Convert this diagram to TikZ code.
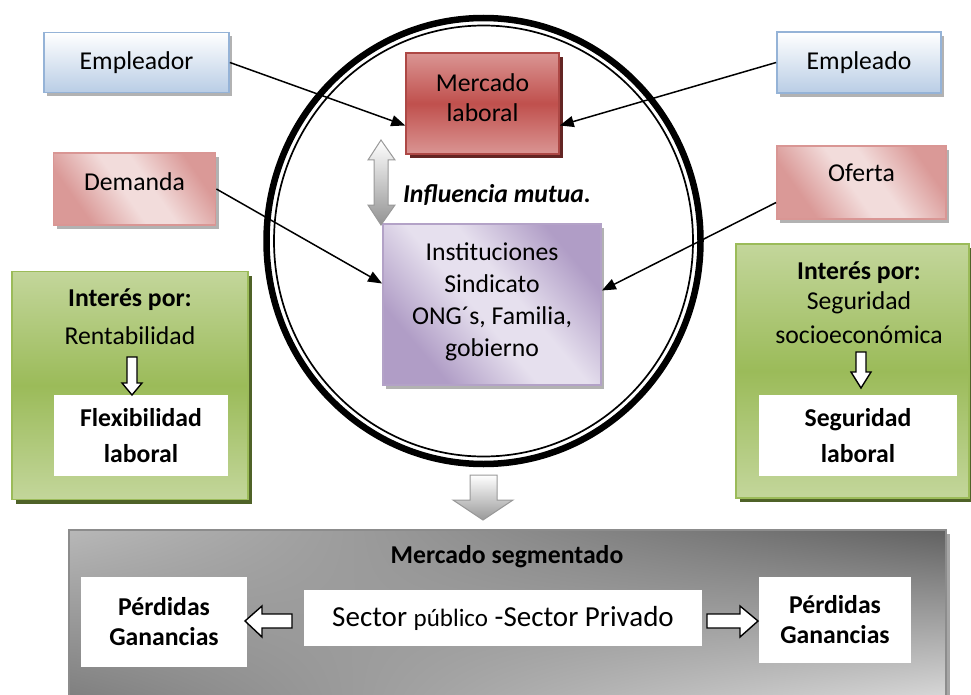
\documentclass[tikz,border=0pt]{standalone}
\usepackage{fontspec}
\setmainfont{Carlito}
\usetikzlibrary{arrows.meta,shadows,shadings}
\definecolor{bluebd}{HTML}{95B3D7}
\definecolor{bluebg}{HTML}{B9CDE5}
\definecolor{pinkbd}{HTML}{D99694}
\definecolor{pinkdk}{HTML}{DA9997}
\definecolor{pinklt}{HTML}{F2DCDB}
\definecolor{redmid}{HTML}{C0504D}
\definecolor{redlt}{HTML}{DA9593}
\definecolor{reddk}{HTML}{632523}
\definecolor{lavbd}{HTML}{B3A2C7}
\definecolor{lavdk}{HTML}{B09DC6}
\definecolor{lavlt}{HTML}{E6E0EE}
\definecolor{greenmid}{HTML}{9BBB59}
\definecolor{greenlt}{HTML}{C3D69B}
\definecolor{greendk}{HTML}{4F6228}
\pgfdeclarehorizontalshading{pinkband}{100bp}{color(0bp)=(pinkdk); color(28bp)=(pinkdk); color(46bp)=(pinklt); color(56bp)=(pinklt); color(74bp)=(pinkdk); color(100bp)=(pinkdk)}
\pgfdeclarehorizontalshading{lavband}{100bp}{color(0bp)=(lavdk); color(28bp)=(lavdk); color(46bp)=(lavlt); color(56bp)=(lavlt); color(74bp)=(lavdk); color(100bp)=(lavdk)}
\newcommand\bodyfont{\fontsize{25.7}{31}\selectfont}
\begin{document}
\begin{tikzpicture}[x=1pt,y=-1pt,
  every node/.style={font=\bodyfont, inner sep=0pt, text=black},
  softshadow/.style={drop shadow={shadow xshift=3pt,shadow yshift=-4pt,fill=gray!60,opacity=1}},
  bluebox/.style={draw=bluebd, line width=1.8pt, top color=white, bottom color=bluebg, softshadow},
  pinkbox/.style={draw=pinkbd, line width=1.8pt, shading=pinkband, shading angle=35, softshadow},
  redbox/.style={draw=redmid!90!black, line width=1.5pt, top color=redlt, bottom color=redlt, middle color=redmid,
     drop shadow={shadow xshift=4pt,shadow yshift=-4pt,fill=reddk,opacity=1}},
  lavbox/.style={draw=lavbd, line width=1.8pt, shading=lavband, shading angle=40, softshadow},
  greenbox/.style={draw=greenmid, line width=1.8pt, top color=greenlt, bottom color=greenlt, middle color=greenmid,
     drop shadow={shadow xshift=4pt,shadow yshift=-4pt,fill=greendk,opacity=1}},
  whitebox/.style={fill=white},
  conn/.style={line width=1.5pt, -{Triangle[length=14pt,width=11pt]}},
  blockarrow/.style={draw=black, line width=1.4pt, fill=white},
  lbl/.style={align=center},
  blbl/.style={align=center, font=\bodyfont\bfseries}
]
\useasboundingbox (0,0) rectangle (971,695);

% central ring
\draw[line width=6.5pt] (483.5,241) ellipse [x radius=217, y radius=223];
\draw[line width=1.7pt] (483.5,241) ellipse [x radius=209.5, y radius=215.5];

% boxes
\node[bluebox, minimum width=185pt, minimum height=60pt] (emp) at (136.5,62.5) {Empleador};
\node[bluebox, minimum width=164pt, minimum height=61pt] (empo) at (859,62.5) {Empleado};
\node[pinkbox, minimum width=162pt, minimum height=72pt, text depth=14pt] (dem) at (134.5,189) {Demanda};
\node[pinkbox, minimum width=169pt, minimum height=73pt, text depth=20pt] (ofe) at (861.5,182.5) {Oferta};
\node[redbox, minimum width=153pt, minimum height=101pt] (merc) at (482.5,103.5) {};
\node[lbl, font=\fontsize{25.7}{30}\selectfont] (mercT) at (482.5,98) {Mercado\\laboral};
\node[lavbox, minimum width=218pt, minimum height=161pt] (inst) at (492,304.5) {};
\node[lbl, font=\fontsize{25.7}{32}\selectfont] (instT) at (492,302) {Instituciones\\Sindicato\\ONG´s, Familia,\\gobierno};

% connectors
\draw[conn] (emp.east) -- ([yshift=-22pt]merc.west);
\draw[conn] (empo.west) -- ([yshift=-22pt]merc.east);
\draw[conn] (dem.east) -- ([yshift=21pt]inst.west);
\draw[conn] ([yshift=-20pt]ofe.west) -- ([yshift=14pt]inst.east);

% mutual influence double arrow
\shade[draw=gray!80, line width=1pt, top color=white, bottom color=gray!85]
  (381,140) -- (395,160) -- (388,160) -- (388,205) -- (395,205) -- (381,225)
  -- (368,205) -- (374,205) -- (374,160) -- (368,160) -- cycle;
\node[font=\bodyfont\bfseries\itshape] (infl) at (497,195) {Influencia mutua.};

% green boxes
\node[greenbox, minimum width=236pt, minimum height=228pt] (gl) at (130,385.5) {};
\node[greenbox, minimum width=233pt, minimum height=254pt] (gr) at (852.5,371) {};
\node[blbl] (gl1) at (130,300) {Interés por:};
\node[lbl] (gl2) at (130,336) {Rentabilidad};
\node[whitebox, minimum width=174pt, minimum height=81pt, blbl, font=\fontsize{25.7}{36}\selectfont\bfseries] (flex) at (141,435.5) {Flexibilidad\\laboral};
\node[blbl] (gr1) at (859,273) {Interés por:};
\node[lbl] (gr2) at (859,303) {Seguridad};
\node[lbl] (gr3) at (859,335) {socioeconómica};
\node[whitebox, minimum width=198pt, minimum height=81pt, blbl, font=\fontsize{25.7}{36}\selectfont\bfseries] (seg) at (858,435.5) {Seguridad\\laboral};
\draw[blockarrow] (127,357) -- (137,357) -- (137,383) -- (142,383) -- (132,395) -- (122,383) -- (127,383) -- cycle;
\draw[blockarrow] (856,352) -- (866,352) -- (866,372) -- (871,372) -- (861,388) -- (851,372) -- (856,372) -- cycle;

% big down arrow
\shade[draw=gray!80, line width=1pt, top color=white, bottom color=gray!80]
  (470,475) -- (497,475) -- (497,500) -- (513,500) -- (483,520) -- (453,500) -- (470,500) -- cycle;

% bottom segmented market
\fill[gray!70] (73,534) rectangle (950,695);
\shade[upper left=black!28, upper right=black!62, lower left=black!50, lower right=black!16] (69,530) rectangle (946,695);
\draw[gray!90, line width=1.5pt] (69,695) -- (69,530) -- (946,530) -- (946,695);
\node[blbl] (segm) at (507,557) {Mercado segmentado};
\node[whitebox, minimum width=166pt, minimum height=90pt, blbl, font=\fontsize{25.7}{30}\selectfont\bfseries] (pl) at (164,622) {Pérdidas\\Ganancias};
\node[whitebox, minimum width=398pt, minimum height=56pt, font=\fontsize{29}{34}\selectfont] (mid) at (503,618) {Sector {\fontsize{25}{30}\selectfont público} -Sector Privado};
\node[whitebox, minimum width=152pt, minimum height=86pt, blbl, font=\fontsize{25.7}{30}\selectfont\bfseries] (pr) at (835,620) {Pérdidas\\Ganancias};
\draw[blockarrow] (245,621) -- (262,606) -- (262,614) -- (292,614) -- (292,628) -- (262,628) -- (262,637) -- cycle;
\draw[blockarrow] (707,614) -- (740,614) -- (740,606) -- (758,621) -- (740,637) -- (740,628) -- (707,628) -- cycle;
\end{tikzpicture}
\end{document}
